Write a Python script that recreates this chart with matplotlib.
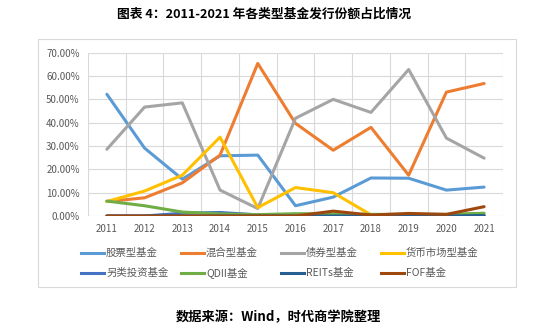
import matplotlib
matplotlib.use("Agg")
import matplotlib.pyplot as plt
from matplotlib.patches import Rectangle
from matplotlib.lines import Line2D
from matplotlib.ticker import FuncFormatter, MultipleLocator

plt.rcParams['font.family'] = ['Noto Sans CJK SC', 'DejaVu Sans']

years = [2011, 2012, 2013, 2014, 2015, 2016, 2017, 2018, 2019, 2020, 2021]

stock = [52.2, 29.1, 15.8, 25.8, 26.1, 4.4, 8.1, 16.3, 16.2, 11.1, 12.4]
mixed = [6.2, 7.8, 14.2, 26.1, 65.4, 39.7, 28.2, 38.0, 17.5, 53.1, 56.8]
bond = [28.6, 46.7, 48.5, 11.1, 3.2, 41.9, 50.0, 44.4, 62.8, 33.4, 24.8]
money = [6.2, 10.7, 17.5, 33.8, 3.6, 12.2, 10.0, 0.5, 0.2, 0.2, 0.2]
alternative = [0.0, 0.0, 1.2, 1.5, 0.5, 0.1, 0.0, 0.0, 0.0, 0.0, 0.0]
qdii = [6.4, 4.4, 1.7, 0.9, 0.6, 1.0, 0.9, 0.7, 0.7, 0.7, 1.2]
reits = [0.0, 0.0, 0.0, 0.0, 0.0, 0.0, 0.0, 0.0, 0.0, 0.0, 0.2]
fof = [0.0, 0.0, 0.0, 0.0, 0.0, 0.0, 2.1, 0.4, 1.1, 0.7, 4.0]

series = [
    ("股票型基金", stock, "#5B9BD5"),
    ("混合型基金", mixed, "#ED7D31"),
    ("债券型基金", bond, "#A5A5A5"),
    ("货币市场型基金", money, "#FFC000"),
    ("另类投资基金", alternative, "#4472C4"),
    ("QDII基金", qdii, "#70AD47"),
    ("REITs基金", reits, "#255E91"),
    ("FOF基金", fof, "#9E480E"),
]

W, H = 550, 331
fig = plt.figure(figsize=(5.5, 3.31), dpi=100)
ax = fig.add_axes([0.16, 0.3474, 0.7545, 0.4934])

# chart frame
fig.patches.append(Rectangle((38 / W, 1 - 287 / H), (516 - 38) / W, (287 - 39) / H,
                             transform=fig.transFigure, fill=False,
                             edgecolor="#D9D9D9", linewidth=0.8, zorder=0))

for name, vals, color in series:
    ax.plot(years, vals, color=color, linewidth=2.2, label=name,
            solid_joinstyle="round", solid_capstyle="round")

ax.set_xlim(2010.5, 2021.5)
ax.set_ylim(0, 70)
ax.yaxis.set_major_locator(MultipleLocator(10))
ax.yaxis.set_major_formatter(FuncFormatter(lambda v, p: f"{v:.2f}%"))
ax.set_xticks(years)
ax.set_xticks([y + 0.5 for y in [2010] + years], minor=True)
ax.grid(True, axis="y", color="#D9D9D9", linewidth=0.8)
ax.grid(True, axis="x", which="minor", color="#D9D9D9", linewidth=0.8)
ax.set_axisbelow(True)
for s in ax.spines.values():
    s.set_visible(False)
ax.tick_params(axis="both", which="both", length=0, colors="#595959", labelsize=7)
ax.tick_params(axis="x", pad=6)
ax.tick_params(axis="y", pad=6)

# legend: 4 equal-width columns, 2 rows
col_x = [81, 181, 281, 381]
row_y = [253, 273]
for i, (name, vals, color) in enumerate(series):
    x0 = col_x[i % 4]
    y0 = row_y[i // 4]
    fig.add_artist(Line2D([x0 / W, (x0 + 23) / W], [1 - y0 / H, 1 - y0 / H],
                          transform=fig.transFigure, color=color, linewidth=2.2))
    fig.text((x0 + 25) / W, 1 - y0 / H, name, ha="left", va="center",
             fontsize=7.5, color="#595959")

fig.text(264.5 / W, 1 - 14 / H, "图表 4：2011-2021 年各类型基金发行份额占比情况",
         ha="center", va="center", fontsize=9.2, fontweight="bold", color="#000000")
fig.text(278.5 / W, 1 - 317 / H, "数据来源：Wind，时代商学院整理",
         ha="center", va="center", fontsize=9.5, fontweight="bold", color="#000000")

fig.savefig("out.png", dpi=100)
